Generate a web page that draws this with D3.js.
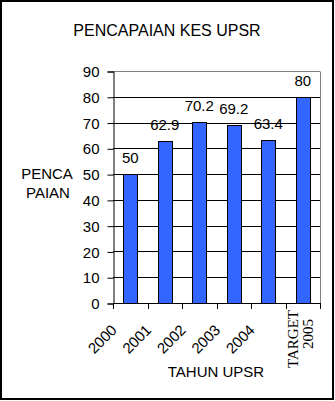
<!DOCTYPE html>
<html>
<head>
<meta charset="utf-8">
<script src="https://cdn.jsdelivr.net/npm/d3@7"></script>
<style>
  body { margin: 0; background: #fff; }
  svg text { font-family: "Liberation Sans", Arial, sans-serif; fill: #000; }
</style>
</head>
<body>
<div id="chart"></div>
<script>
// data
var years = ["2000", "2001", "2002", "2003", "2004", "TARGET 2005"];
var values = [50, 62.9, 70.2, 69.2, 63.4, 80];
var yTicks = [0, 10, 20, 30, 40, 50, 60, 70, 80, 90];

var W = 335, H = 401;
var plot = {left: 113, right: 320, top: 71, bottom: 303};

var svg = d3.select("#chart").append("svg")
  .attr("width", W)
  .attr("height", H);

// frame
svg.append("rect")
  .attr("x", 1).attr("y", 1)
  .attr("width", 332).attr("height", 398)
  .attr("fill", "#fff")
  .attr("stroke", "#000")
  .attr("stroke-width", 2);

var x = d3.scaleBand()
  .domain(years)
  .range([plot.left, plot.right])
  .paddingInner(0.6)
  .paddingOuter(0.3);

var y = d3.scaleLinear()
  .domain([0, 90])
  .range([plot.bottom, plot.top]);

// title
svg.append("text")
  .attr("x", 167).attr("y", 36)
  .attr("text-anchor", "middle")
  .style("font-size", "16px")
  .text("PENCAPAIAN KES UPSR");

// grid lines
svg.append("g").selectAll("line")
  .data(yTicks.filter(function(d) { return d > 0; }))
  .enter().append("line")
  .attr("x1", plot.left)
  .attr("x2", plot.right)
  .attr("y1", function(d) { return Math.round(y(d)) + 0.5; })
  .attr("y2", function(d) { return Math.round(y(d)) + 0.5; })
  .attr("stroke", function(d) { return d == 90 ? "#808080" : "#000"; });

// right border of plot area
svg.append("line")
  .attr("x1", plot.right + 0.5).attr("x2", plot.right + 0.5)
  .attr("y1", Math.round(y(90)) + 0.5).attr("y2", plot.bottom + 0.5)
  .attr("stroke", "#808080");

// bars
svg.append("g").selectAll("rect")
  .data(values)
  .enter().append("rect")
  .attr("x", function(d, i) { return Math.round(x(years[i])) + 0.5; })
  .attr("y", function(d) { return Math.round(y(d)) + 0.5; })
  .attr("width", Math.round(x.bandwidth()))
  .attr("height", function(d) { return Math.round(y(0)) - Math.round(y(d)); })
  .attr("fill", "#3366FF")
  .attr("stroke", "#000");

// y axis
var yaxis = d3.axisLeft(y).tickValues(yTicks).tickSize(6).tickPadding(8);
var gy = svg.append("g")
  .attr("transform", "translate(" + (plot.left + 0.5) + ",0.5)")
  .call(yaxis);
gy.select(".domain").attr("stroke", "#000");
gy.selectAll(".tick text")
  .style("font-size", "15px")
  .attr("font-family", null)
  .attr("dy", "0.34em");

// x axis line and ticks at category boundaries
svg.append("line")
  .attr("x1", plot.left).attr("x2", plot.right + 1)
  .attr("y1", plot.bottom + 0.5).attr("y2", plot.bottom + 0.5)
  .attr("stroke", "#000");
svg.append("g").selectAll("line")
  .data(d3.range(years.length + 1))
  .enter().append("line")
  .attr("x1", function(i) { return Math.round(plot.left + i * x.step()) + 0.5; })
  .attr("x2", function(i) { return Math.round(plot.left + i * x.step()) + 0.5; })
  .attr("y1", plot.bottom)
  .attr("y2", plot.bottom + 6)
  .attr("stroke", "#000");

// data labels
svg.append("g").selectAll("text")
  .data(values)
  .enter().append("text")
  .attr("x", function(d, i) { return x(years[i]) + x.bandwidth() / 2; })
  .attr("y", function(d) { return y(d) - 11; })
  .attr("text-anchor", "middle")
  .style("font-size", "15px")
  .text(function(d) { return d; });

// category labels
years.forEach(function(c, i) {
  var cx = x(c) + x.bandwidth() / 2;
  if (c.indexOf("TARGET") == 0) {
    var parts = c.split(" ");
    svg.append("text")
      .attr("transform", "translate(" + (cx - 5) + ",339) rotate(-90)")
      .attr("text-anchor", "middle")
      .style("font-family", "'Liberation Serif', 'Times New Roman', serif")
      .style("font-size", "15px")
      .text(parts[0]);
    svg.append("text")
      .attr("transform", "translate(" + (cx + 10) + ",334) rotate(-90)")
      .attr("text-anchor", "middle")
      .style("font-family", "'Liberation Serif', 'Times New Roman', serif")
      .style("font-size", "15px")
      .text(parts[1]);
  } else {
    svg.append("text")
      .attr("transform", "translate(" + (cx - 12.5) + ",331) rotate(-45)")
      .attr("text-anchor", "end")
      .style("font-size", "15px")
      .text(c);
  }
});

// axis titles
svg.append("text")
  .attr("x", 216).attr("y", 377)
  .attr("text-anchor", "middle")
  .style("font-size", "15px")
  .text("TAHUN UPSR");

svg.append("text")
  .attr("x", 47).attr("y", 179)
  .attr("text-anchor", "middle")
  .style("font-size", "15px")
  .text("PENCA");
svg.append("text")
  .attr("x", 48).attr("y", 198)
  .attr("text-anchor", "middle")
  .style("font-size", "15px")
  .text("PAIAN");
</script>
</body>
</html>
